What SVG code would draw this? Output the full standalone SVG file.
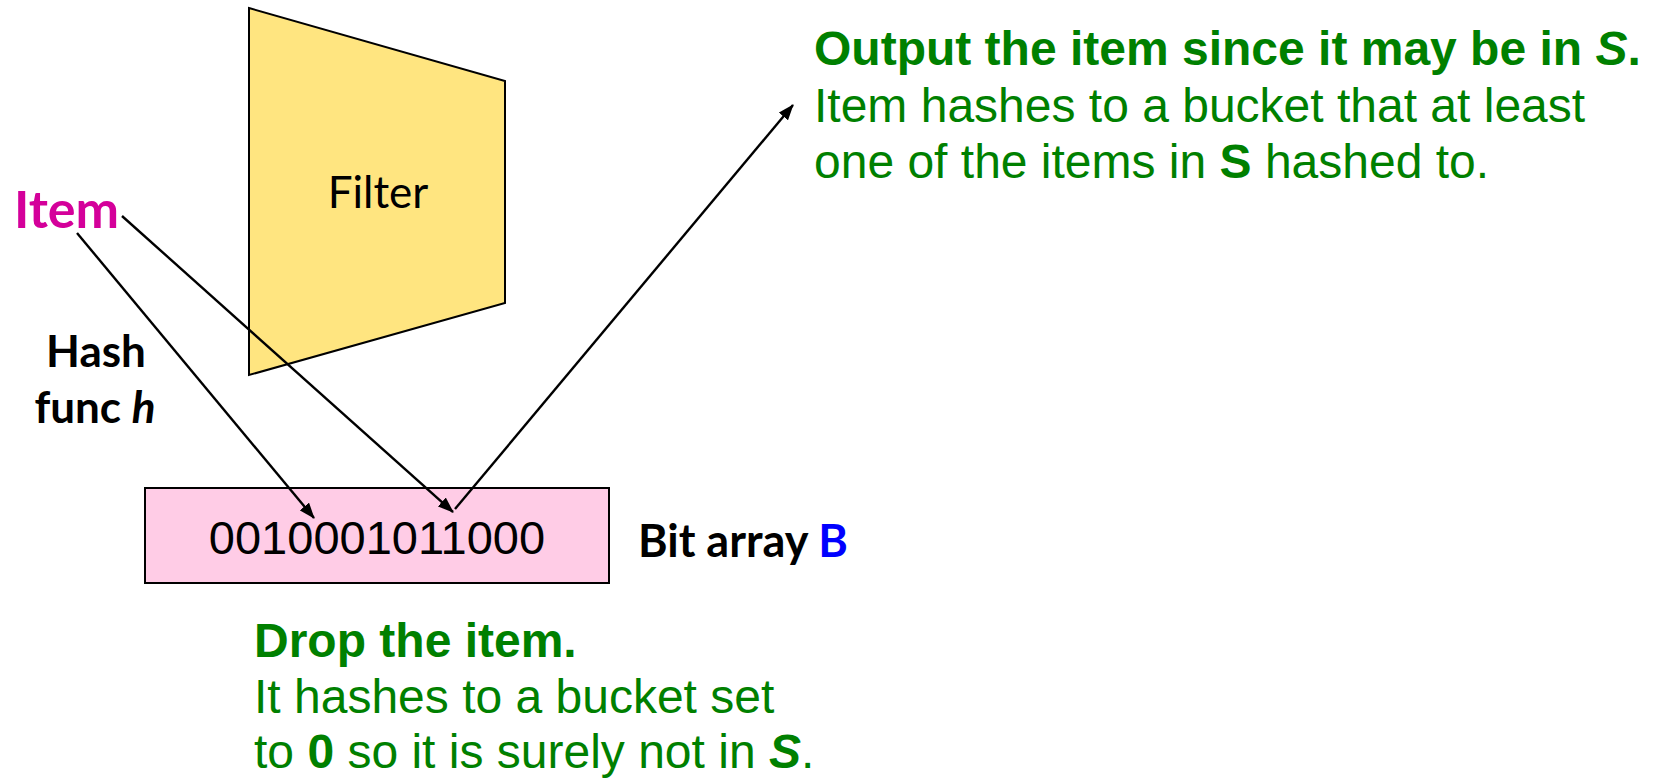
<svg xmlns="http://www.w3.org/2000/svg" width="1653" height="780" viewBox="0 0 1653 780">
<style>
.cal{font-family:Lato,"Open Sans","Liberation Sans",sans-serif;}
.ar{font-family:"Liberation Sans",Arial,sans-serif;}
.g{fill:#008000;font-size:48px;}
.b{font-weight:bold;}
.conn{stroke:#000;stroke-width:2.4;fill:none;marker-end:url(#ah);}
</style>
<defs>
<marker id="ah" viewBox="0 0 16 12" refX="15" refY="6" markerWidth="16" markerHeight="12" markerUnits="userSpaceOnUse" orient="auto">
<path d="M0,0 L16,6 L0,12 z" fill="#000"/>
</marker>
</defs>
<rect width="1653" height="780" fill="#fff"/>
<g id="filter">
<polygon points="249,8 505,81 505,303 249,375" fill="#FFE580" stroke="#000" stroke-width="2"/>
<text class="cal" x="378" y="208" font-size="44" text-anchor="middle">Filter</text>
</g>
<g id="bitarray">
<rect x="145" y="488" width="464" height="95" fill="#FFCCE6" stroke="#000" stroke-width="2"/>
<text class="ar" x="377" y="554" font-size="47" text-anchor="middle">0010001011000</text>
</g>
<g id="item">
<text class="cal b" x="14" y="228" font-size="52" fill="#D4009A">Item</text>
</g>
<g id="hashlabel">
<text class="cal b" x="96" y="367" font-size="44" text-anchor="middle">Hash</text>
<text class="cal b" x="95" y="423" font-size="44" text-anchor="middle">func <tspan font-style="italic">h</tspan></text>
</g>
<g id="bitlabel">
<text class="cal b" x="638" y="557" font-size="45">Bit array <tspan fill="#0000FF">B</tspan></text>
</g>
<g id="output">
<text class="ar g b" x="814" y="65">Output the item since it may be in <tspan font-style="italic">S</tspan>.</text>
<text class="ar g" x="814" y="122">Item hashes to a bucket that at least</text>
<text class="ar g" x="814" y="178">one of the items in <tspan class="b">S</tspan> hashed to.</text>
</g>
<g id="drop">
<text class="ar g b" x="254" y="657">Drop the item.</text>
<text class="ar g" x="254" y="713">It hashes to a bucket set</text>
<text class="ar g" x="254" y="768">to <tspan class="b">0</tspan> so it is surely not in <tspan class="b" font-style="italic">S</tspan>.</text>
</g>
<g id="connectors">
<line class="conn" x1="122" y1="216" x2="453" y2="512"/>
<line class="conn" x1="77" y1="233" x2="314" y2="518"/>
<line class="conn" x1="455" y1="509" x2="793" y2="105"/>
</g>
</svg>
